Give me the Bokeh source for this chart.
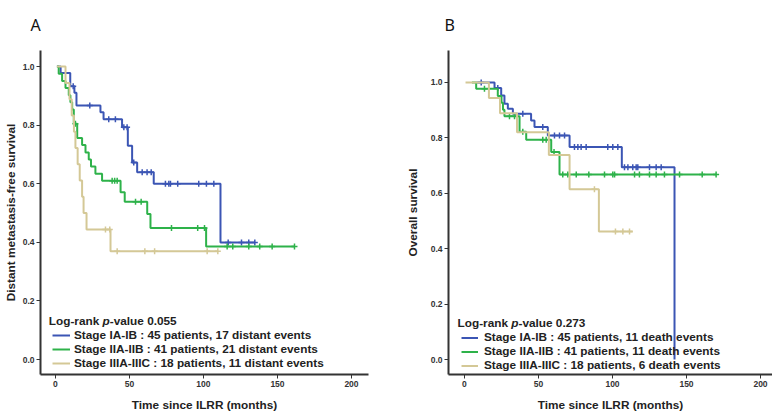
import numpy as np
from bokeh.plotting import figure
from bokeh.layouts import row
from bokeh.models import (Range1d, FixedTicker, PrintfTickFormatter, Legend,
                          LegendItem, Label)
from bokeh.embed import file_html
from bokeh.resources import INLINE

# ---------------- data ----------------
# Panel A: distant metastasis-free survival
a_blue_start, a_blue_end = 1.0, 134.7
a_blue_t = [3.5, 10.0, 12.8, 14.2, 30.4, 32.5, 45.0, 48.9, 51.8, 55.2, 66.4, 111.5]
a_blue_s = [0.978, 0.933, 0.911, 0.867, 0.844, 0.820, 0.793, 0.730, 0.673, 0.639, 0.600, 0.400]
a_blue_c = [12.0, 23.2, 36.0, 40.5, 46.2, 48.4, 52.9, 58.6, 61.9, 64.7, 74.3, 76.6,
            77.7, 82.6, 96.8, 102.0, 107.0, 116.7, 125.7, 130.6, 134.7]

a_green_start, a_green_end = 1.0, 161.5
a_green_t = [2.2, 4.5, 6.8, 9.0, 10.1, 11.3, 12.4, 14.7, 18.0, 20.3, 22.5, 24.0,
             27.0, 31.5, 44.0, 46.8, 62.0, 64.2, 101.8]
a_green_s = [0.976, 0.951, 0.927, 0.902, 0.878, 0.854, 0.805, 0.756, 0.732, 0.707,
             0.683, 0.659, 0.634, 0.610, 0.571, 0.539, 0.497, 0.449, 0.386]
a_green_c = [13.5, 38.3, 40.0, 41.7, 54.1, 57.9, 78.4, 96.1, 100.7, 116.0, 119.8,
             130.6, 138.0, 146.4, 161.5]

a_tan_start, a_tan_end = 1.0, 109.7
a_tan_t = [6.8, 9.5, 11.0, 12.5, 13.5, 15.0, 16.4, 18.0, 19.0, 21.0, 37.2]
a_tan_s = [0.944, 0.889, 0.833, 0.778, 0.722, 0.667, 0.611, 0.556, 0.500, 0.444, 0.370]
a_tan_c = [33.8, 36.7, 41.7, 60.4, 67.0, 102.5, 109.7]

# Panel B: overall survival
b_blue_start, b_blue_end = 8.0, 141.9
b_blue_t = [20.3, 24.8, 27.0, 29.3, 32.7, 45.0, 47.3, 56.3, 71.0, 106.3, 141.9]
b_blue_s = [0.980, 0.953, 0.923, 0.905, 0.887, 0.863, 0.839, 0.809, 0.767, 0.694, 0.0]
b_blue_c = [11.3, 22.5, 39.4, 52.9, 60.8, 64.2, 67.6, 74.3, 76.6, 78.8, 82.2, 96.8,
            100.2, 103.6, 108.1, 110.4, 113.7, 116.0, 117.1, 125.0, 129.5, 132.9]

b_green_start, b_green_end = 5.0, 170.0
b_green_t = [7.9, 22.5, 25.0, 26.0, 27.0, 37.2, 41.7, 58.6, 64.2]
b_green_s = [0.977, 0.951, 0.927, 0.902, 0.878, 0.822, 0.793, 0.749, 0.668]
b_green_c = [13.5, 30.4, 33.8, 39.4, 52.9, 55.2, 60.5, 66.4, 69.8, 75.5, 84.0, 94.6,
             100.2, 101.4, 114.9, 118.2, 125.0, 129.5, 135.1, 145.3, 160.6, 170.0]

b_tan_start, b_tan_end = 0.7, 113.7
b_tan_t = [16.5, 24.0, 35.5, 57.0, 71.0, 90.8]
b_tan_s = [0.944, 0.889, 0.820, 0.738, 0.615, 0.462]
b_tan_c = [87.8, 102.0, 107.0, 111.5]

a_labels = ["Stage IA-IB : 45 patients, 17 distant events",
            "Stage IIA-IIB : 41 patients, 21 distant events",
            "Stage IIIA-IIIC : 18 patients, 11 distant events"]
b_labels = ["Stage IA-IB : 45 patients, 11 death events",
            "Stage IIA-IIB : 41 patients, 11 death events",
            "Stage IIIA-IIIC : 18 patients, 6 death events"]
a_pvalue = "-value 0.055"
b_pvalue = "-value 0.273"

x_ticks = [0, 50, 100, 150, 200]
y_ticks = [0.0, 0.2, 0.4, 0.6, 0.8, 1.0]

BLUE, GREEN, TAN = "#3b55b4", "#2eb24a", "#d4c896"
TXT = "#222222"
FONT = "Liberation Sans"
FS = "11.8px"


def step_xy(start, end, t, s):
    xs = [start] + list(t) + [max(end, t[-1])]
    ys = [1.0] + list(s) + [s[-1]]
    return xs, ys


def censor_y(t, s, c):
    t = np.asarray(t)
    s = np.asarray([1.0] + list(s))
    idx = np.searchsorted(t, np.asarray(c), side="right")
    return s[idx]


def make_panel(fw, mb, xr, yr, ylabel, curves, labels, pval,
               letter, letter_off, title_xy, leg_loc, leg_h, leg_gw, leg_sd):
    p = figure(frame_width=fw, frame_height=324, output_backend="svg",
               toolbar_location=None, x_range=Range1d(*xr), y_range=Range1d(*yr),
               min_border_left=mb[0], min_border_right=mb[1],
               min_border_top=42, min_border_bottom=37,
               title=letter)
    p.title.text_font = "Noto Sans"
    p.title.text_font_size = "16px"
    p.title.text_font_style = "normal"
    p.title.text_color = "#111111"
    p.title.align = "left"
    p.title.vertical_align = "top"
    p.title.offset = letter_off
    p.title.standoff = 26
    p.outline_line_color = None
    p.xgrid.visible = False
    p.ygrid.visible = False
    p.background_fill_color = "white"
    p.border_fill_color = "white"
    for ax in (p.xaxis[0], p.yaxis[0]):
        ax.axis_line_width = 2
        ax.axis_line_color = "#333333"
        ax.major_tick_line_color = "#333333"
        ax.major_tick_in = 0
        ax.major_tick_out = 4
        ax.minor_tick_line_color = None
        ax.major_label_text_font = FONT
        ax.major_label_text_font_style = "bold"
        ax.major_label_text_font_size = "8.5px"
        ax.major_label_text_color = "#333333"
        ax.axis_label_text_font = FONT
        ax.axis_label_text_font_style = "bold"
        ax.axis_label_text_font_size = FS
        ax.axis_label_text_color = TXT
        ax.major_label_standoff = 2
    p.xaxis.ticker = FixedTicker(ticks=x_ticks)
    p.yaxis.ticker = FixedTicker(ticks=y_ticks)
    p.yaxis.formatter = PrintfTickFormatter(format="%.1f")
    p.xaxis.axis_label = "Time since ILRR (months)"
    p.yaxis.axis_label = ylabel
    p.xaxis.axis_label_standoff = 8
    p.yaxis.axis_label_standoff = 2

    items = []
    for (start, end, t, s, c, col), lab in zip(curves, labels):
        xs, ys = step_xy(start, end, t, s)
        r = p.step(xs, ys, mode="after", line_color=col, line_width=2)
        p.scatter(c, censor_y(t, s, c), marker="cross", size=6,
                  line_color=col, line_width=1.5)
        items.append(LegendItem(label=lab, renderers=[r]))

    leg = Legend(items=items, location=leg_loc, padding=0, margin=0, spacing=0,
                 label_height=leg_h, glyph_height=leg_h, glyph_width=leg_gw,
                 label_standoff=leg_sd, label_text_font=FONT,
                 label_text_font_style="bold", label_text_font_size=FS,
                 label_text_color=TXT, background_fill_alpha=0,
                 border_line_color=None)
    p.add_layout(leg)

    tx, ty = title_xy
    w1 = 4.556 * 11.8
    w2 = 0.611 * 11.8
    for txt, off, style in (("Log-rank ", 0, "bold"), ("p", w1, "bold italic"),
                            (pval, w1 + w2, "bold")):
        p.add_layout(Label(x=tx, y=ty, x_offset=off, text=txt, text_font=FONT,
                           text_font_size=FS, text_font_style=style,
                           text_color=TXT, text_baseline="middle"))
    return p


pa = make_panel(328, (32, 20), (-10.1, 211.5), (-0.051, 1.055),
                "Distant metastasis-free survival",
                [(a_blue_start, a_blue_end, a_blue_t, a_blue_s, a_blue_c, BLUE),
                 (a_green_start, a_green_end, a_green_t, a_green_s, a_green_c, GREEN),
                 (a_tan_start, a_tan_end, a_tan_t, a_tan_s, a_tan_c, TAN)],
                a_labels, a_pvalue, "A", -10, (-4.5, 0.131),
                (12, 4), 14, 18, 4)

pb = make_panel(324, (60, 0), (-10.8, 208.1), (-0.054, 1.1155),
                "Overall survival",
                [(b_blue_start, b_blue_end, b_blue_t, b_blue_s, b_blue_c, BLUE),
                 (b_green_start, b_green_end, b_green_t, b_green_s, b_green_c, GREEN),
                 (b_tan_start, b_tan_end, b_tan_t, b_tan_s, b_tan_c, TAN)],
                b_labels, b_pvalue, "B", -4, (-4.7, 0.131),
                (13, 2), 13, 17, 6)
pb.yaxis.axis_label_standoff = 8

layout = row(pa, pb)
open("out.html", "w").write(file_html(layout, INLINE))
